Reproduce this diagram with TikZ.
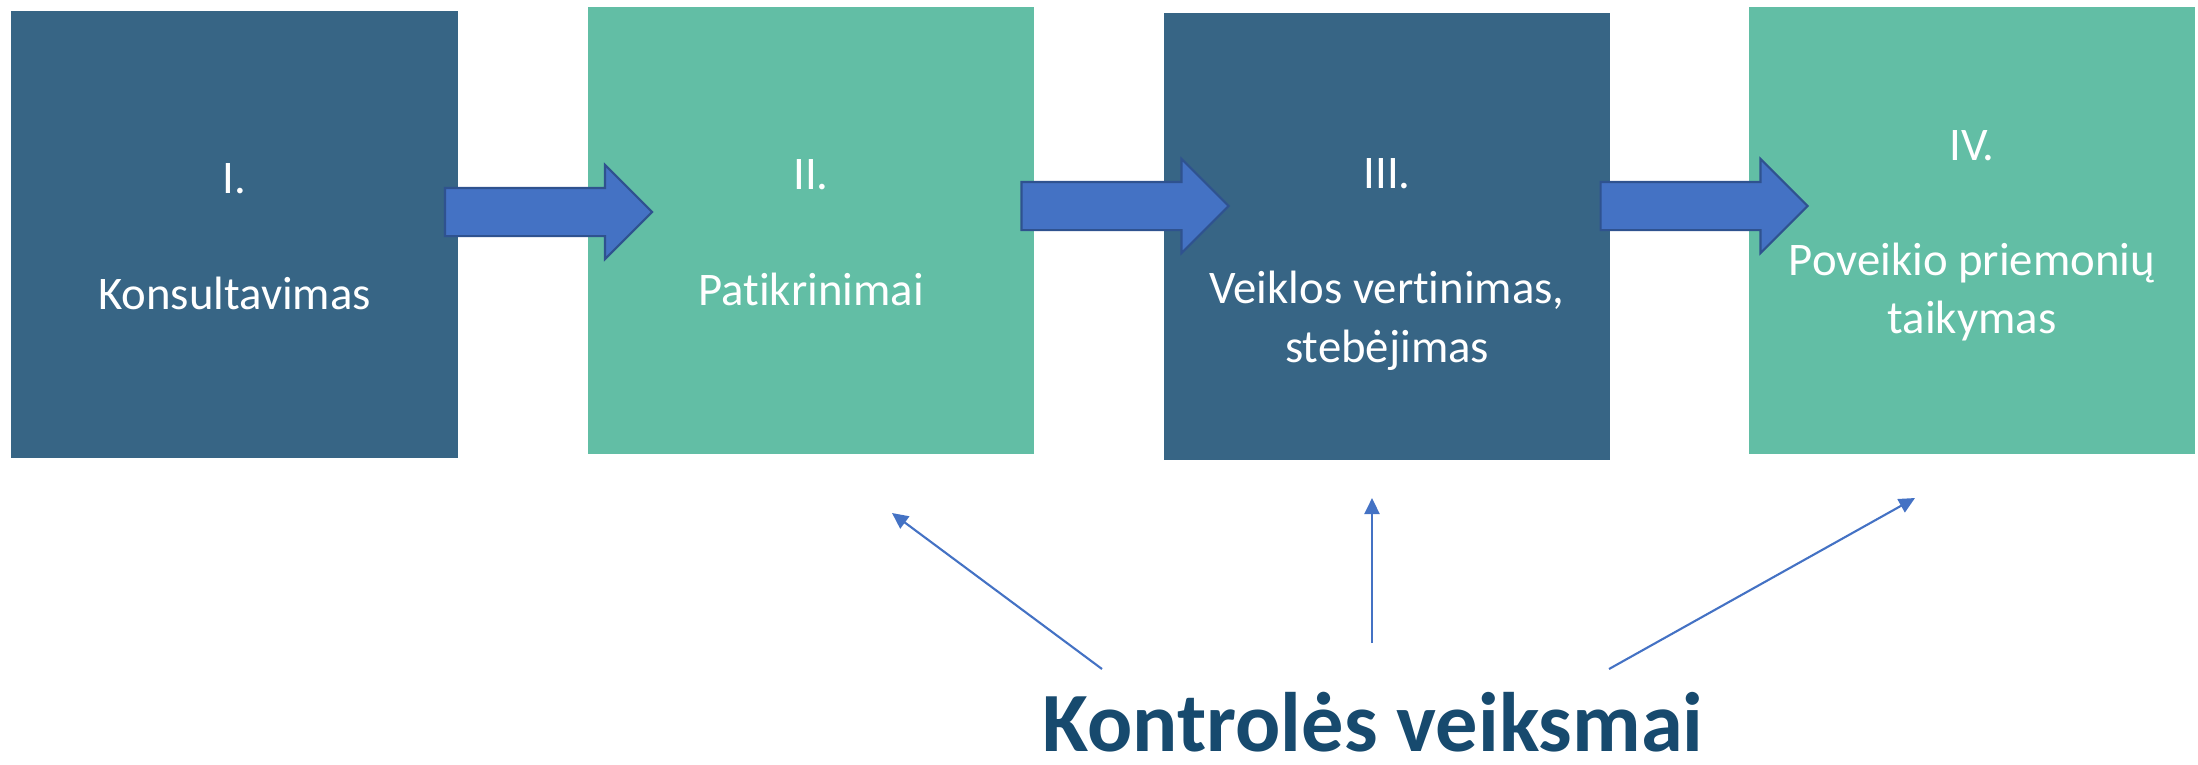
\documentclass[tikz,border=0pt]{standalone}
\usepackage{fontspec}
\setmainfont{Carlito}[Ligatures=NoCommon]
\usetikzlibrary{shapes.arrows,arrows.meta}
\definecolor{stageblue}{HTML}{376585}
\definecolor{stagegreen}{HTML}{62BEA5}
\definecolor{arrowfill}{HTML}{4472C4}
\definecolor{arrowedge}{HTML}{2F528F}
\definecolor{titleblue}{HTML}{174A6E}
\begin{document}
\begin{tikzpicture}[
  box/.style={rectangle, inner sep=0pt, minimum width=4.46cm, minimum height=4.47cm},
  txt/.style={anchor=base, inner sep=0pt, text=white, font=\fontsize{13.3}{16}\selectfont},
  fat/.style={single arrow, fill=arrowfill, draw=arrowedge, line width=0.6pt,
    inner xsep=0pt, inner ysep=0.23cm, minimum height=2.07cm, single arrow head extend=0.23cm},
  pointer/.style={draw=arrowfill, line width=0.6pt, -{Triangle[length=1.6mm,width=1.5mm]}}]
\useasboundingbox (0,0) rectangle (21.98,7.64);

\node[box, fill=stageblue] (1) at (2.345,5.295) {};
\node[box, fill=stagegreen] (2) at (8.11,5.335) {};
\node[box, fill=stageblue] (3) at (13.87,5.275) {};
\node[box, fill=stagegreen] (4) at (19.72,5.335) {};

\node[txt] (n1) at (2.345,5.71) {I.};
\node[txt] (t1) at (2.345,4.55) {Konsultavimas};
\node[txt] (n2) at (8.11,5.75) {II.};
\node[txt] (t2) at (8.11,4.59) {Patikrinimai};
\node[txt] (n3) at (13.87,5.76) {III.};
\node[txt] (t3) at (13.87,4.61) {Veiklos vertinimas,};
\node[txt] (u3) at (13.87,4.02) {stebėjimas};
\node[txt] (n4) at (19.72,6.04) {IV.};
\node[txt] (t4) at (19.72,4.89) {Poveikio priemonių};
\node[txt] (u4) at (19.72,4.31) {taikymas};

\node[fat] (a1) at (5.365,5.52) {};
\node[fat] (a2) at (11.13,5.58) {};
\node[fat] (a3) at (16.92,5.58) {};

\node[anchor=base, inner sep=0pt, text=titleblue, font=\fontsize{24}{28}\selectfont\bfseries] (k) at (13.73,0.13) {Kontrolės veiksmai};

\coordinate (s1) at (11.02,0.95);
\coordinate (s2) at (13.72,1.21);
\coordinate (s3) at (16.09,0.95);
\coordinate (e1) at (8.92,2.51);
\coordinate (e2) at (13.72,2.66);
\coordinate (e3) at (19.15,2.66);

\path[pointer] (s1) -- (e1);
\path[pointer] (s2) -- (e2);
\path[pointer] (s3) -- (e3);
\end{tikzpicture}
\end{document}
